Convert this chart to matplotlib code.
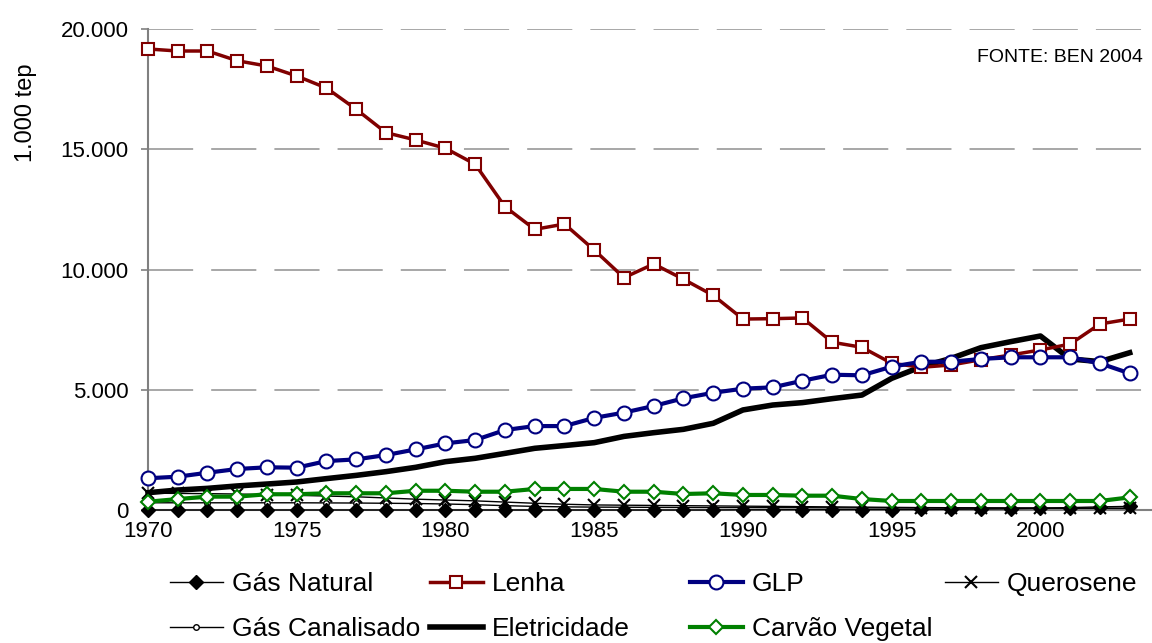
import numpy as np
import matplotlib.pyplot as plt
from matplotlib.font_manager import FontProperties

plt.rcParams['font.family'] = ['Liberation Sans', 'DejaVu Sans']

years = np.arange(1970, 2004)

gas_natural = [0, 0, 0, 0, 0, 0, 0, 0, 0, 0, 0, 0, 0, 0, 0, 0, 0, 0, 0, 0,
               10, 10, 15, 15, 20, 20, 25, 30, 40, 50, 70, 100, 130, 150]
lenha = [19170, 19085, 19085, 18680, 18460, 18045, 17545, 16660, 15690, 15385,
         15040, 14375, 12610, 11670, 11890, 10810, 9660, 10230, 9595, 8925,
         7940, 7955, 7985, 6975, 6765, 6100, 5935, 6030, 6250, 6445,
         6655, 6900, 7735, 7940]
glp = [1320, 1385, 1550, 1705, 1775, 1760, 2035, 2105, 2285, 2520,
       2770, 2910, 3325, 3490, 3490, 3830, 4050, 4325, 4645, 4875,
       5045, 5100, 5375, 5625, 5600, 5960, 6165, 6165, 6280, 6350,
       6350, 6350, 6100, 5680]
querosene = [700, 690, 680, 665, 640, 610, 580, 550, 500, 450,
             415, 380, 330, 280, 240, 210, 200, 190, 180, 170,
             160, 150, 140, 130, 120, 110, 100, 95, 90, 85,
             80, 75, 70, 65]
gas_canalisado = [300, 300, 300, 300, 300, 300, 295, 290, 280, 270,
                  250, 220, 180, 150, 130, 120, 115, 110, 105, 100,
                  100, 95, 95, 90, 90, 85, 85, 80, 80, 80,
                  75, 75, 75, 70]
eletricidade = [720, 830, 900, 1000, 1080, 1165, 1305, 1440, 1595, 1775,
                2010, 2150, 2355, 2565, 2680, 2800, 3060, 3215, 3355, 3605,
                4160, 4365, 4465, 4630, 4780, 5475, 5960, 6305, 6750, 7000,
                7235, 6280, 6170, 6540]
carvao = [345, 455, 555, 555, 655, 655, 695, 695, 695, 800,
          800, 760, 760, 875, 875, 875, 760, 760, 665, 695,
          625, 625, 595, 595, 455, 375, 375, 375, 375, 375,
          375, 375, 375, 525]

fig = plt.figure(figsize=(11.52, 6.43), dpi=100)
ax = fig.add_axes([148/1152, 1 - 510/643, (1152 - 148)/1152, (510 - 29)/643])

h_el, = ax.plot(years, eletricidade, color='black', lw=4, zorder=3, clip_on=False)
h_le, = ax.plot(years, lenha, color='#800000', lw=2.5, marker='s', ms=8,
                mfc='white', mec='#800000', mew=1.5, zorder=4, clip_on=False)
h_gl, = ax.plot(years, glp, color='#000080', lw=3, marker='o', ms=10,
                mfc='white', mec='#000080', mew=1.5, zorder=5, clip_on=False)
h_gc, = ax.plot(years, gas_canalisado, color='black', lw=1, marker='o', ms=4,
                mfc='white', mec='black', mew=1, zorder=6, clip_on=False)
h_qu, = ax.plot(years, querosene, color='black', lw=1, marker='x', ms=9,
                mew=1.5, zorder=6, clip_on=False)
h_gn, = ax.plot(years, gas_natural, color='black', lw=1, marker='D', ms=7,
                mfc='black', mec='black', zorder=6, clip_on=False)
h_cv, = ax.plot(years, carvao, color='#008000', lw=3, marker='D', ms=7,
                mfc='white', mec='#008000', mew=1.5, zorder=7, clip_on=False)

ax.set_xlim(1970, 2003.75)
ax.set_ylim(0, 20000)
ax.set_yticks([0, 5000, 10000, 15000, 20000])
ax.yaxis.set_major_formatter(lambda v, p: f"{int(v):,}".replace(",", "."))
ax.set_xticks(np.arange(1970, 2001, 5))
ax.tick_params(axis='y', labelsize=16, length=5, width=1.2, color='#808080', pad=9)
ax.tick_params(axis='x', labelsize=16, length=0, pad=8)

for v in [5000, 10000, 15000, 20000]:
    ax.axhline(v, color='#a0a0a0', lw=1.3, ls=(0, (25, 10)), zorder=1)

for s in ['top', 'right']:
    ax.spines[s].set_visible(False)
for s in ['left', 'bottom']:
    ax.spines[s].set_color('#808080')
    ax.spines[s].set_linewidth(1.5)

ax.text(-0.122, 0.825, '1.000 tep', rotation=90, ha='center', va='center',
        fontsize=17, transform=ax.transAxes)
fig.text(1143/1152, 1 - 58/643, 'FONTE: BEN 2004', ha='right', va='center', fontsize=14)

lfont = FontProperties(family=['Liberation Sans Narrow', 'Liberation Sans'], size=19)
cols = [([h_gn, h_gc], ['Gás Natural', 'Gás Canalisado'], 170),
        ([h_le, h_el], ['Lenha', 'Eletricidade'], 430),
        ([h_gl, h_cv], ['GLP', 'Carvão Vegetal'], 690),
        ([h_qu], ['Querosene'], 945)]
for hs, labs, x0 in cols:
    fig.legend(hs, labs, loc='upper left', bbox_to_anchor=(x0/1152, 1 - 572/643),
               frameon=False, prop=lfont, borderpad=0, borderaxespad=0,
               handlelength=2.0, handletextpad=0.35, labelspacing=0.8)

fig.savefig('out.png', dpi=100)
